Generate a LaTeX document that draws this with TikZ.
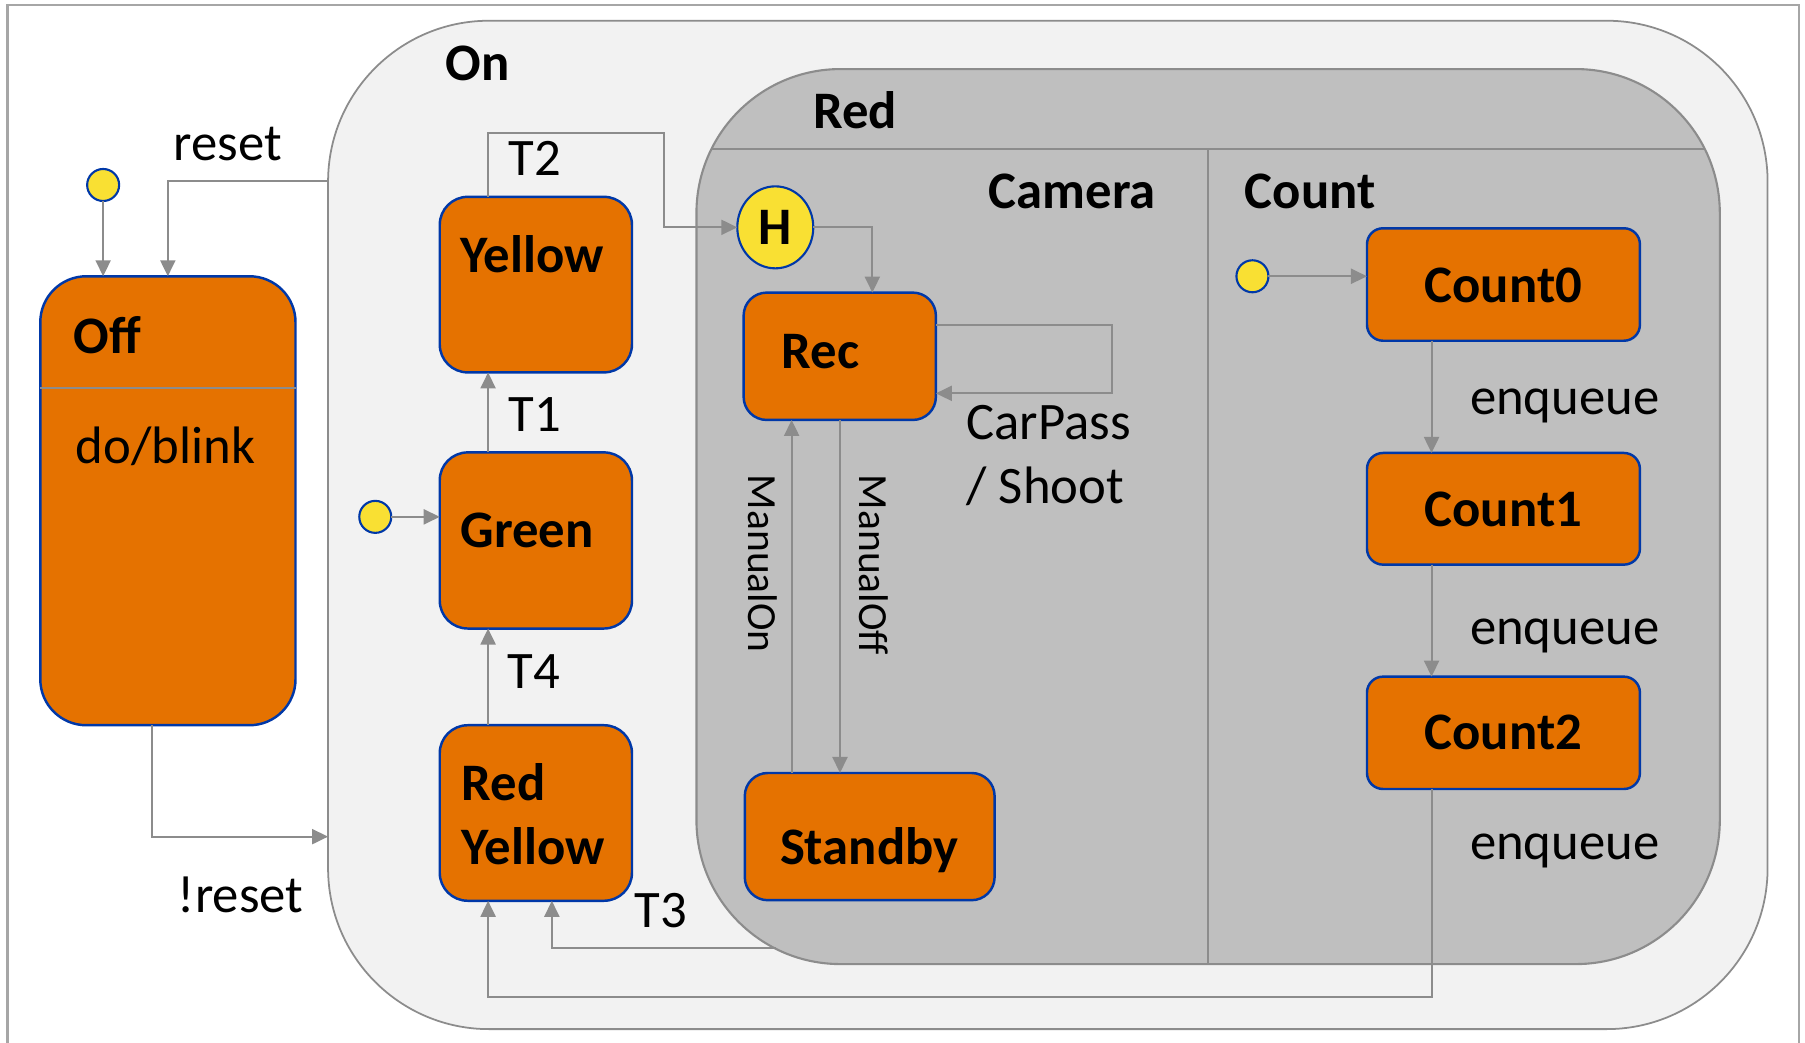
\documentclass[tikz,border=0pt]{standalone}
\usepackage{fontspec}
\setmainfont{Carlito}
\usetikzlibrary{arrows.meta,fit,shapes.geometric}

\definecolor{stfill}{RGB}{229,114,0}
\definecolor{stborder}{RGB}{0,56,168}
\definecolor{onfill}{RGB}{242,242,242}
\definecolor{redfill}{RGB}{191,191,191}
\definecolor{edge}{RGB}{140,140,140}
\definecolor{dotfill}{RGB}{249,224,51}
\definecolor{framegray}{RGB}{166,166,166}

\begin{document}
\begin{tikzpicture}[x=0.11512mm, y=-0.11512mm,
  every node/.style={inner sep=0pt, outer sep=0pt, font=\fontsize{15}{18}\selectfont},
  lbl/.style={anchor=base west},
  blbl/.style={anchor=base west, font=\fontsize{15}{18}\selectfont\bfseries},
  vlbl/.style={anchor=base west, rotate=-90, font=\fontsize{11.8}{14}\selectfont},
  statebox/.style={draw=stborder, fill=stfill, line width=0.7pt},
  initdot/.style={circle, draw=stborder, fill=dotfill, line width=0.6pt, minimum size=3.2mm},
  conn/.style={draw=edge, line width=0.6pt, -{Triangle[length=1.6mm,width=1.5mm]}},
  plain/.style={draw=edge, line width=0.6pt},
]
\useasboundingbox (0,0) rectangle (1568,906);
\fill[white] (0,0) rectangle (1568,906);
\draw[framegray, line width=0.6pt] (6.5,906) -- (6.5,4.5) -- (1563,4.5) -- (1563,906);

% composite states
\node[fit={(285,18) (1535.5,894)}, draw=edge, fill=onfill, line width=0.5pt, rounded corners=16.1mm] (on) {};
\node[fit={(605,60) (1494,837.5)}, draw=edge, fill=redfill, line width=0.6pt, rounded corners=14.4mm] (red) {};
\begin{scope}
  \clip[rounded corners=14.4mm] (605,60) rectangle (1494,837.5);
  \draw[plain] (600,129.5) -- (1500,129.5);
\end{scope}
\draw[plain] (1049,129.5) -- (1049,837.5);

\node[blbl] (onlbl) at (387,69.5) {On};
\node[blbl] (redlbl) at (706.7,111.5) {Red};
\node[blbl] (camlbl) at (859,181) {Camera};
\node[blbl] (cntlbl) at (1081.5,181) {Count};

% Off state
\node[fit={(35,240) (256.7,630)}, statebox, rounded corners=4.6mm] (off) {};
\coordinate (offdiv) at (0,337);
\draw[plain] (off.west |- offdiv) -- (off.east |- offdiv);
\node[blbl] (offlbl) at (64,307.5) {Off};
\node[lbl] (offdo) at (66,403) {do/blink};
\node[initdot] (offinit) at (89.6,160.7) {};

% traffic light states
\node[fit={(382,171) (549,323.5)}, statebox, rounded corners=2.8mm] (yellow) {};
\node[fit={(382,393) (549,546)}, statebox, rounded corners=2.8mm] (green) {};
\node[fit={(382,630) (549,782.5)}, statebox, rounded corners=2.8mm] (redyellow) {};
\node[blbl] (yellowlbl) at (400,237) {Yellow};
\node[blbl] (greenlbl) at (400,476) {Green};
\node[blbl] (rylbla) at (401,695.5) {Red};
\node[blbl] (rylblb) at (401,750.8) {Yellow};
\node[initdot] (greeninit) at (326,449) {};

% camera region
\node[ellipse, draw=stborder, fill=dotfill, line width=0.6pt, minimum width=7.6mm, minimum height=8.2mm,
      font=\fontsize{15}{18}\selectfont\bfseries] (hist) at (673.5,197.5) {H};
\node[fit={(646,254.2) (813,364.8)}, statebox, rounded corners=2.3mm] (rec) {};
\node[fit={(647,671.5) (864,782)}, statebox, rounded corners=2.3mm] (standby) {};
\node[blbl] (reclbl) at (679,320) {Rec};
\node[blbl] (standbylbl) at (677.6,750.8) {Standby};
\node[lbl] (carpass) at (839.7,382) {CarPass};
\node[lbl] (shoot) at (839.7,437) {/ Shoot};
\node[vlbl] (manon) at (650,412.6) {ManualOn};
\node[vlbl] (manoff) at (747,412.6) {ManualOff};

% count region
\node[initdot] (countinit) at (1088,240) {};
\node[fit={(1187.5,198.3) (1424.6,296)}, statebox, rounded corners=1.6mm] (count0) {};
\node[fit={(1187.5,393.5) (1424.6,490.5)}, statebox, rounded corners=1.6mm] (count1) {};
\node[fit={(1187.5,587.8) (1424.6,685.4)}, statebox, rounded corners=1.6mm] (count2) {};
\node[anchor=base, font=\fontsize{15}{18}\selectfont\bfseries] (c0lbl) at (1306,263) {Count0};
\node[anchor=base, font=\fontsize{15}{18}\selectfont\bfseries] (c1lbl) at (1306,457.5) {Count1};
\node[anchor=base, font=\fontsize{15}{18}\selectfont\bfseries] (c2lbl) at (1306,651) {Count2};
\node[lbl] (enqa) at (1277,360.5) {enqueue};
\node[lbl] (enqb) at (1277,560) {enqueue};
\node[lbl] (enqc) at (1277,747) {enqueue};

% transition labels
\node[lbl] (resetlbl) at (151,139) {reset};
\node[lbl] (nresetlbl) at (154.6,792.5) {!reset};
\node[lbl] (tlbl2) at (442,152.6) {T2};
\node[lbl] (tlbl1) at (442,375) {T1};
\node[lbl] (tlbl4) at (441,598) {T4};
\node[lbl] (tlbl3) at (551.6,806) {T3};

% helper coordinates
\coordinate (yreset) at (0,157.2);
\coordinate (xreset) at (145.8,0);
\coordinate (xnreset) at (132,0);
\coordinate (ynreset) at (0,726.8);
\coordinate (xL) at (424,0);
\coordinate (t2top) at (576.6,115.8);
\coordinate (xh) at (757.8,0);
\coordinate (selftop) at (0,282.3);
\coordinate (selfbot) at (966.2,341.7);
\coordinate (xon) at (687.7,0);
\coordinate (xoff) at (729.7,0);
\coordinate (t3start) at (674,823.6);
\coordinate (xt3) at (479.4,0);
\coordinate (xc) at (1243.6,0);
\coordinate (yloop) at (0,866);

% connectors
\draw[conn] (offinit) -- (offinit |- off.north);
\draw[conn] (on.west |- yreset) -| (xreset |- off.north);
\draw[conn] (xnreset |- off.south) |- (on.west |- ynreset);
\draw[conn] (greeninit) -- (green.west |- greeninit);
\draw[conn] (xL |- green.north) -- (xL |- yellow.south);
\draw[conn] (xL |- redyellow.north) -- (xL |- green.south);
\draw[conn] (xL |- yellow.north) |- (t2top) |- (hist.west);
\draw[conn] (hist.east) -| (xh |- rec.north);
\draw[conn] (rec.east |- selftop) -| (selfbot) -- (rec.east |- selfbot);
\draw[conn] (xon |- standby.north) -- (xon |- rec.south);
\draw[conn] (xoff |- rec.south) -- (xoff |- standby.north);
\draw[conn] (t3start) -| (xt3 |- redyellow.south);
\draw[conn] (countinit) -- (count0.west |- countinit);
\draw[conn] (xc |- count0.south) -- (xc |- count1.north);
\draw[conn] (xc |- count1.south) -- (xc |- count2.north);
\draw[conn] (xc |- count2.south) |- (xL |- yloop) -- (xL |- redyellow.south);
\end{tikzpicture}
\end{document}
